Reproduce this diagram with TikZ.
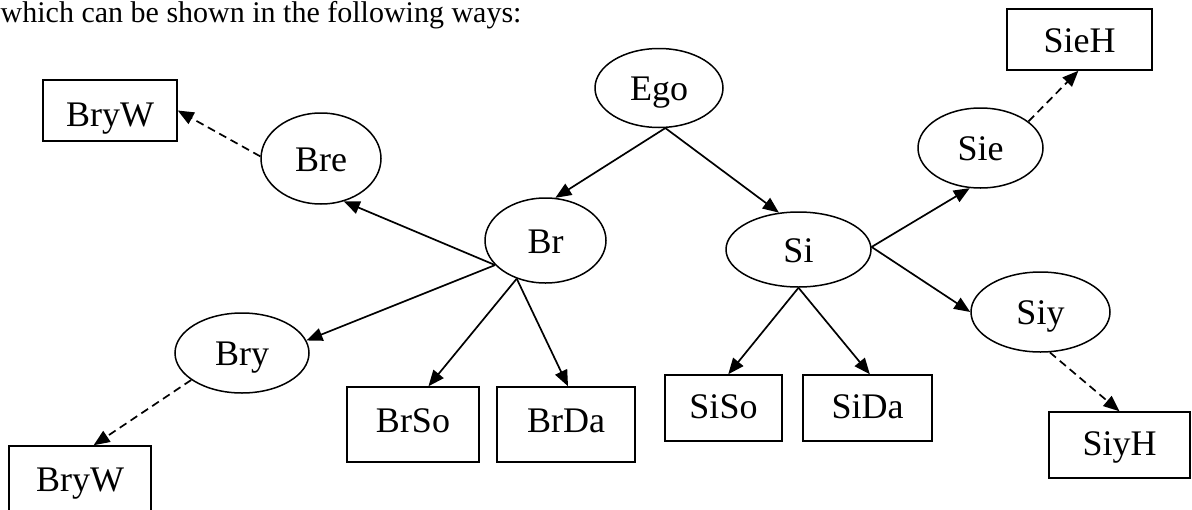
\documentclass[tikz,border=0pt]{standalone}
\usepackage{fontspec}
\setmainfont{Liberation Serif}
\usetikzlibrary{arrows.meta,shapes.geometric}
\begin{document}
\begin{tikzpicture}[x=1pt,y=-1pt,
  every node/.style={inner sep=0pt,line width=1.5pt,
    font=\fontsize{36}{40}\selectfont,text height=25pt,text depth=0pt},
  oval/.style 2 args={draw,ellipse,minimum width=#1pt,minimum height=#2pt},
  box/.style 2 args={draw,rectangle,minimum width=#1pt,minimum height=#2pt},
  solidarrow/.style={line width=1.7pt,-{Triangle[length=16pt,width=13pt]}},
  dasharrow/.style={solidarrow,dash pattern=on 8pt off 5pt}]
\useasboundingbox (0,0) rectangle (1192,509);
\clip (0,0) rectangle (1192,509);

% lead-in sentence
\node[anchor=base west,font=\fontsize{30}{36}\selectfont,text height=,text depth=]
  (lead) at (0,22) {which can be shown in the following ways:};

% kin terms (ovals)
\node[oval={128}{79}]  (Ego) at (659,88)    {Ego};
\node[oval={121}{85}]  (Br)  at (545.5,240.5) {Br};
\node[oval={145}{75}]  (Si)  at (798.5,249.5) {Si};
\node[oval={120}{91}]  (Bre) at (321,158.5) {Bre};
\node[oval={134}{80}]  (Bry) at (242,353)   {Bry};
\node[oval={125}{80}]  (Sie) at (980.5,148) {Sie};
\node[oval={139}{80}]  (Siy) at (1040.5,312) {Siy};

% derived terms (boxes)
\node[box={134}{61},text height=32pt]  (BryWa) at (110,110.5) {BryW};
\node[box={142}{66}]                   (BryWb) at (80,479)    {BryW};
\node[box={132}{75},text depth=9pt]    (BrSo)  at (413,424.5) {BrSo};
\node[box={138}{75},text depth=9pt]    (BrDa)  at (566,424.5) {BrDa};
\node[box={117}{66},text depth=5pt]    (SiSo)  at (723.5,408) {SiSo};
\node[box={129}{66},text depth=5pt]    (SiDa)  at (867.5,408) {SiDa};
\node[box={145}{61}]                   (SieH)  at (1079.5,39.5) {SieH};
\node[box={141}{66},text depth=5pt]    (SiyH)  at (1119.5,445) {SiyH};

% solid links
\draw[solidarrow] (Ego.279) -- (Br.77);
\draw[solidarrow] (Ego.279) -- (Si.118);
\draw[solidarrow] (Br.206) -- (Bre.298);
\draw[solidarrow] (Br.206) -- (Bry.11);
\draw[solidarrow] (Br.233) -- (BrSo.68);
\draw[solidarrow] (Br.233) -- (BrDa.87);
\draw[solidarrow] (Si.south) -- (SiSo.82);
\draw[solidarrow] (Si.south) -- (SiDa.86);
\draw[solidarrow] (Si.2) -- (Sie.255);
\draw[solidarrow] (Si.2) -- (Siy.west);

% dashed links
\draw[dasharrow] (Bre.178) -- (BryWa.east);
\draw[dasharrow] (Bry.208) -- (BryWb.68);
\draw[dasharrow] (Sie.29) -- (SieH.268);
\draw[dasharrow] (Siy.283) -- (SiyH.north);
\end{tikzpicture}
\end{document}
